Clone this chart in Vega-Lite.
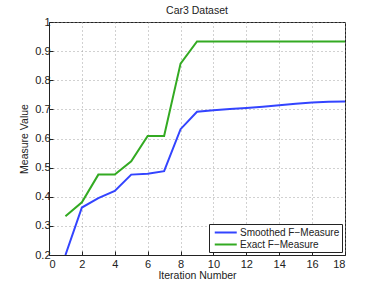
{
  "$schema": "https://vega.github.io/schema/vega-lite/v6.json",
  "width": 296,
  "height": 233,
  "autosize": "none",
  "padding": {"left": 49, "top": 22, "right": 37, "bottom": 32},
  "background": "white",
  "title": {"text": "Car3 Dataset", "font": "Liberation Sans", "fontSize": 10.5, "fontWeight": "normal", "color": "#222", "offset": 0},
  "config": {
    "view": {"stroke": "#222", "strokeWidth": 1},
    "font": "Liberation Sans",
    "axis": {
      "grid": true, "gridDash": [1, 3], "gridColor": "#999", "gridOpacity": 0.9,
      "domainColor": "#222", "tickColor": "#222", "tickSize": -4,
      "labelFont": "Liberation Sans", "labelFontSize": 11, "labelColor": "#222",
      "titleFont": "Liberation Sans", "titleFontSize": 10.5, "titleFontWeight": "normal", "titleColor": "#222"
    }
  },
  "data": {
    "values": [
      {"iter": 1, "value": 0.2, "series": "Smoothed F\u2212Measure"},
      {"iter": 2, "value": 0.363, "series": "Smoothed F\u2212Measure"},
      {"iter": 3, "value": 0.395, "series": "Smoothed F\u2212Measure"},
      {"iter": 4, "value": 0.42, "series": "Smoothed F\u2212Measure"},
      {"iter": 5, "value": 0.476, "series": "Smoothed F\u2212Measure"},
      {"iter": 6, "value": 0.479, "series": "Smoothed F\u2212Measure"},
      {"iter": 7, "value": 0.488, "series": "Smoothed F\u2212Measure"},
      {"iter": 8, "value": 0.632, "series": "Smoothed F\u2212Measure"},
      {"iter": 9, "value": 0.692, "series": "Smoothed F\u2212Measure"},
      {"iter": 10, "value": 0.697, "series": "Smoothed F\u2212Measure"},
      {"iter": 11, "value": 0.701, "series": "Smoothed F\u2212Measure"},
      {"iter": 12, "value": 0.705, "series": "Smoothed F\u2212Measure"},
      {"iter": 13, "value": 0.709, "series": "Smoothed F\u2212Measure"},
      {"iter": 14, "value": 0.714, "series": "Smoothed F\u2212Measure"},
      {"iter": 15, "value": 0.719, "series": "Smoothed F\u2212Measure"},
      {"iter": 16, "value": 0.724, "series": "Smoothed F\u2212Measure"},
      {"iter": 17, "value": 0.726, "series": "Smoothed F\u2212Measure"},
      {"iter": 18, "value": 0.727, "series": "Smoothed F\u2212Measure"},
      {"iter": 1, "value": 0.333, "series": "Exact F\u2212Measure"},
      {"iter": 2, "value": 0.381, "series": "Exact F\u2212Measure"},
      {"iter": 3, "value": 0.476, "series": "Exact F\u2212Measure"},
      {"iter": 4, "value": 0.476, "series": "Exact F\u2212Measure"},
      {"iter": 5, "value": 0.522, "series": "Exact F\u2212Measure"},
      {"iter": 6, "value": 0.609, "series": "Exact F\u2212Measure"},
      {"iter": 7, "value": 0.609, "series": "Exact F\u2212Measure"},
      {"iter": 8, "value": 0.857, "series": "Exact F\u2212Measure"},
      {"iter": 9, "value": 0.933, "series": "Exact F\u2212Measure"},
      {"iter": 10, "value": 0.933, "series": "Exact F\u2212Measure"},
      {"iter": 11, "value": 0.933, "series": "Exact F\u2212Measure"},
      {"iter": 12, "value": 0.933, "series": "Exact F\u2212Measure"},
      {"iter": 13, "value": 0.933, "series": "Exact F\u2212Measure"},
      {"iter": 14, "value": 0.933, "series": "Exact F\u2212Measure"},
      {"iter": 15, "value": 0.933, "series": "Exact F\u2212Measure"},
      {"iter": 16, "value": 0.933, "series": "Exact F\u2212Measure"},
      {"iter": 17, "value": 0.933, "series": "Exact F\u2212Measure"},
      {"iter": 18, "value": 0.933, "series": "Exact F\u2212Measure"}
    ]
  },
  "mark": {"type": "line", "strokeWidth": 2, "clip": true},
  "encoding": {
    "x": {
      "field": "iter", "type": "quantitative",
      "scale": {"domain": [0, 18], "nice": false, "zero": false},
      "axis": {"title": "Iteration Number", "values": [0, 2, 4, 6, 8, 10, 12, 14, 16, 18], "labelPadding": 7, "titlePadding": 1}
    },
    "y": {
      "field": "value", "type": "quantitative",
      "scale": {"domain": [0.2, 1], "nice": false, "zero": false},
      "axis": {"title": "Measure Value", "values": [0.2, 0.3, 0.4, 0.5, 0.6, 0.7, 0.8, 0.9, 1], "format": "~g", "labelPadding": 3, "titlePadding": 5}
    },
    "color": {
      "field": "series", "type": "nominal",
      "scale": {"domain": ["Smoothed F\u2212Measure", "Exact F\u2212Measure"], "range": ["#3344ff", "#33aa22"]},
      "legend": {
        "title": null, "orient": "bottom-right", "offset": 3,
        "symbolType": "M-0.5,0H3.5", "symbolStrokeWidth": 2, "symbolSize": 121, "symbolFillColor": "transparent",
        "labelFont": "Liberation Sans", "labelFontSize": 10, "labelColor": "#222",
        "strokeColor": "#222", "fillColor": "white", "padding": 2, "rowPadding": 0, "labelOffset": 16
      }
    }
  }
}
